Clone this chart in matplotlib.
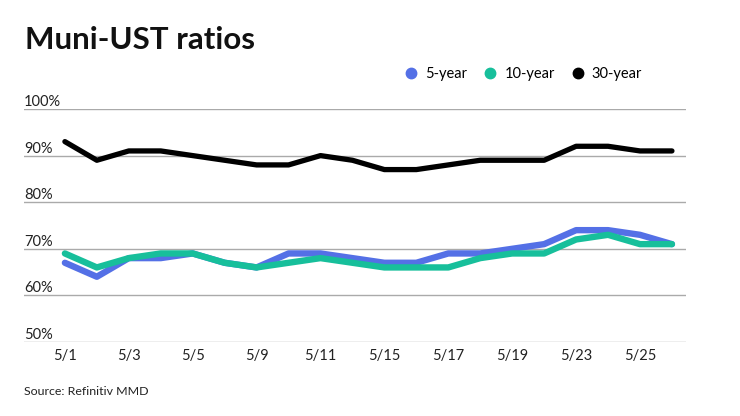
import matplotlib
matplotlib.use("Agg")
import matplotlib.pyplot as plt
from matplotlib.lines import Line2D

plt.rcParams['font.family'] = ['Lato', 'DejaVu Sans']

# trading days in May
dates = ["5/1", "5/2", "5/3", "5/4", "5/5", "5/8", "5/9", "5/10", "5/11", "5/12",
         "5/15", "5/16", "5/17", "5/18", "5/19", "5/22", "5/23", "5/24", "5/25", "5/26"]

# ratios in percent
five_year = [67, 64, 68, 68, 69, 67, 66, 69, 69, 68,
             67, 67, 69, 69, 70, 71, 74, 74, 73, 71]
ten_year = [69, 66, 68, 69, 69, 67, 66, 67, 68, 67,
            66, 66, 66, 68, 69, 69, 72, 73, 71, 71]
thirty_year = [93, 89, 91, 91, 90, 89, 88, 88, 90, 89,
               87, 87, 88, 89, 89, 89, 92, 92, 91, 91]

y_ticks = [50, 60, 70, 80, 90, 100]
y_labels = ["50%", "60%", "70%", "80%", "90%", "100%"]

blue = "#5470e6"
teal = "#17bf9b"
black = "#000000"

fig = plt.figure(figsize=(7.4, 4.16), dpi=100)
ax = fig.add_axes([24 / 740, 1 - 342 / 416, (686 - 24) / 740, (342 - 109) / 416])

x = list(range(len(dates)))
ax.plot(x, five_year, color=blue, lw=4.6, solid_capstyle="round", solid_joinstyle="round", zorder=3)
ax.plot(x, ten_year, color=teal, lw=4.6, solid_capstyle="round", solid_joinstyle="round", zorder=4)
ax.plot(x, thirty_year, color=black, lw=3.8, solid_capstyle="round", solid_joinstyle="round", zorder=5)

ax.set_ylim(50, 100)
ax.set_xlim(-1.28, 19.44)

ax.set_yticks(y_ticks, y_labels)
ax.grid(axis="y", color="#aaaaaa", lw=1)
ax.set_axisbelow(True)
ax.tick_params(axis="y", length=0, pad=0, labelsize=10.5, labelcolor="#222222")
for lbl in ax.get_yticklabels():
    lbl.set_horizontalalignment("left")
    lbl.set_verticalalignment("bottom")

ax.set_xticks(x[::2], dates[::2])
ax.tick_params(axis="x", length=0, pad=5, labelsize=10.5, labelcolor="#222222")

for side in ["top", "right", "left", "bottom"]:
    ax.spines[side].set_visible(False)

fig.text(25 / 740, 1 - 49 / 416, "Muni-UST ratios", fontsize=22.5, fontweight="bold",
         ha="left", va="baseline", color="#111111")
fig.text(24 / 740, 1 - 395 / 416, "Source: Refinitiv MMD", fontsize=8.9,
         ha="left", va="baseline", color="#222222")

handles = [Line2D([], [], marker="o", ls="", color=c, markersize=7.5)
           for c in (blue, teal, black)]
fig.legend(handles, ["5-year", "10-year", "30-year"], loc="center left",
           bbox_to_anchor=(404 / 740, 1 - 74 / 416), ncol=3, frameon=False,
           handlelength=1.0, handletextpad=0.45, columnspacing=1.1,
           borderaxespad=0, borderpad=0, fontsize=10.5)

fig.savefig("out.png", dpi=100)
